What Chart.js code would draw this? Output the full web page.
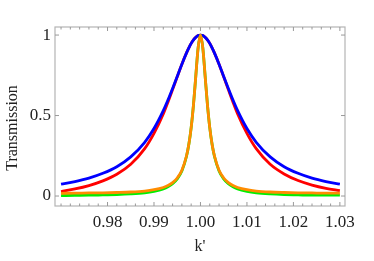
<!DOCTYPE html>
<html>
<head>
<meta charset="utf-8">
<script src="https://cdn.jsdelivr.net/npm/chart.js@4.4.1/dist/chart.umd.min.js"></script>
<style>
  html, body { margin: 0; padding: 0; background: #fff; }
  canvas { display: block; }
</style>
</head>
<body>
<canvas id="myChart" width="374" height="261"></canvas>
<script>
// k' sample positions
const kValues = [
  0.970, 0.973, 0.976, 0.979, 0.982, 0.985, 0.988, 0.990, 0.992, 0.993,
  0.994, 0.995, 0.996, 0.997, 0.9975, 0.998, 0.9985, 0.999, 0.9995, 1.000,
  1.0005, 1.001, 1.0015, 1.002, 1.0025, 1.003, 1.004, 1.005, 1.006, 1.007,
  1.008, 1.010, 1.012, 1.015, 1.018, 1.021, 1.024, 1.027, 1.030
];

const blueT = [
  0.074, 0.090, 0.111, 0.141, 0.182, 0.243, 0.334, 0.419, 0.530, 0.596,
  0.668, 0.743, 0.819, 0.889, 0.920, 0.948, 0.970, 0.986, 0.997, 1.000,
  0.997, 0.986, 0.970, 0.948, 0.920, 0.889, 0.819, 0.743, 0.668, 0.596,
  0.530, 0.419, 0.334, 0.243, 0.182, 0.141, 0.111, 0.090, 0.074
];

const redT = [
  0.028, 0.044, 0.065, 0.094, 0.135, 0.197, 0.294, 0.389, 0.510, 0.583,
  0.661, 0.741, 0.819, 0.889, 0.920, 0.948, 0.970, 0.986, 0.997, 1.000,
  0.997, 0.986, 0.970, 0.948, 0.920, 0.889, 0.819, 0.741, 0.661, 0.583,
  0.510, 0.389, 0.294, 0.197, 0.137, 0.096, 0.068, 0.048, 0.034
];

const greenT = [
  0.003, 0.004, 0.005, 0.007, 0.009, 0.013, 0.020, 0.029, 0.044, 0.057,
  0.076, 0.106, 0.156, 0.247, 0.321, 0.425, 0.568, 0.747, 0.922, 1.000,
  0.922, 0.747, 0.568, 0.425, 0.321, 0.247, 0.156, 0.106, 0.076, 0.057,
  0.044, 0.029, 0.020, 0.013, 0.009, 0.007, 0.005, 0.005, 0.005
];

const orangeT = [
  0.017, 0.018, 0.019, 0.020, 0.022, 0.025, 0.031, 0.039, 0.053, 0.065,
  0.083, 0.112, 0.160, 0.250, 0.321, 0.425, 0.568, 0.747, 0.922, 1.000,
  0.922, 0.747, 0.568, 0.425, 0.321, 0.250, 0.160, 0.112, 0.083, 0.065,
  0.053, 0.039, 0.031, 0.025, 0.022, 0.020, 0.019, 0.018, 0.018
];

const xTicks = [0.98, 0.99, 1.00, 1.01, 1.02, 1.03];
const xMinorTicks = [0.970, 0.972, 0.974, 0.976, 0.978, 0.982, 0.984, 0.986, 0.988,
  0.992, 0.994, 0.996, 0.998, 1.002, 1.004, 1.006, 1.008, 1.012, 1.014, 1.016, 1.018,
  1.022, 1.024, 1.026, 1.028];
const yTicks = [0, 0.5, 1];

const font = "'Liberation Serif', 'DejaVu Serif', serif";

function pts(ys) {
  return kValues.map((k, i) => ({ x: k, y: ys[i] }));
}

function line(label, ys, color, order) {
  return {
    label: label,
    data: pts(ys),
    borderColor: color,
    borderWidth: 2.8,
    pointRadius: 0,
    cubicInterpolationMode: "monotone",
    order: order,
  };
}

// Mathematica-style frame with inward ticks, and the y title
const framePlugin = {
  id: "frame",
  beforeDatasetsDraw(chart) {
    const { ctx, chartArea: a, scales } = chart;
    ctx.save();
    ctx.strokeStyle = "#b4b4b4";
    ctx.lineWidth = 1.2;
    ctx.strokeRect(a.left, a.top, a.right - a.left, a.bottom - a.top);
    ctx.lineWidth = 1;
    ctx.strokeStyle = "#999";
    ctx.beginPath();
    xTicks.forEach((v) => {
      const px = scales.x.getPixelForValue(v);
      ctx.moveTo(px, a.bottom); ctx.lineTo(px, a.bottom - 4);
      ctx.moveTo(px, a.top); ctx.lineTo(px, a.top + 4);
    });
    xMinorTicks.forEach((v) => {
      const px = scales.x.getPixelForValue(v);
      ctx.moveTo(px, a.bottom); ctx.lineTo(px, a.bottom - 2.5);
      ctx.moveTo(px, a.top); ctx.lineTo(px, a.top + 2.5);
    });
    yTicks.forEach((v) => {
      const py = scales.y.getPixelForValue(v);
      ctx.moveTo(a.left, py); ctx.lineTo(a.left + 4, py);
      ctx.moveTo(a.right, py); ctx.lineTo(a.right - 4, py);
    });
    ctx.stroke();
    ctx.restore();
  },
  afterDraw(chart) {
    const ctx = chart.ctx;
    ctx.save();
    ctx.translate(13, 128);
    ctx.rotate(-Math.PI / 2);
    ctx.fillStyle = "#222";
    ctx.font = "16px " + font;
    ctx.textAlign = "center";
    ctx.textBaseline = "middle";
    ctx.fillText("Transmission", 0, 0);
    ctx.restore();
  },
};

const ctx = document.getElementById("myChart");

const myChart = new Chart(ctx, {
  type: "line",
  data: {
    datasets: [
      line("blue", blueT, "#0000ff", 2),
      line("red", redT, "#ff0000", 3),
      line("green", greenT, "#00ee00", 1),
      line("orange", orangeT, "#ff8c00", 0),
    ],
  },
  options: {
    responsive: false,
    animation: false,
    devicePixelRatio: 1,
    layout: { padding: { top: 27, right: 29, left: 0, bottom: 0 } },
    plugins: {
      legend: { display: false },
      tooltip: { enabled: false },
    },
    scales: {
      x: {
        type: "linear",
        min: 0.9687,
        max: 1.0311,
        afterBuildTicks(scale) {
          scale.ticks = xTicks.map((v) => ({ value: v }));
        },
        afterFit(scale) {
          scale.height = 55;
        },
        grid: { display: false, drawTicks: false },
        border: { display: false },
        ticks: {
          color: "#222",
          font: { family: font, size: 17 },
          padding: 6,
          maxRotation: 0,
          autoSkip: false,
          callback: (v) => Number(v).toFixed(2),
        },
        title: {
          display: true,
          text: "k'",
          color: "#222",
          font: { family: font, size: 16 },
          padding: { top: 0, bottom: 5 },
        },
      },
      y: {
        min: -0.062,
        max: 1.05,
        afterBuildTicks(scale) {
          scale.ticks = yTicks.map((v) => ({ value: v }));
        },
        afterFit(scale) {
          scale.width = 55;
        },
        grid: { display: false, drawTicks: false },
        border: { display: false },
        ticks: {
          color: "#222",
          font: { family: font, size: 17 },
          padding: 4,
          callback: (v) => String(v),
        },
      },
    },
  },
  plugins: [framePlugin],
});
</script>
</body>
</html>
